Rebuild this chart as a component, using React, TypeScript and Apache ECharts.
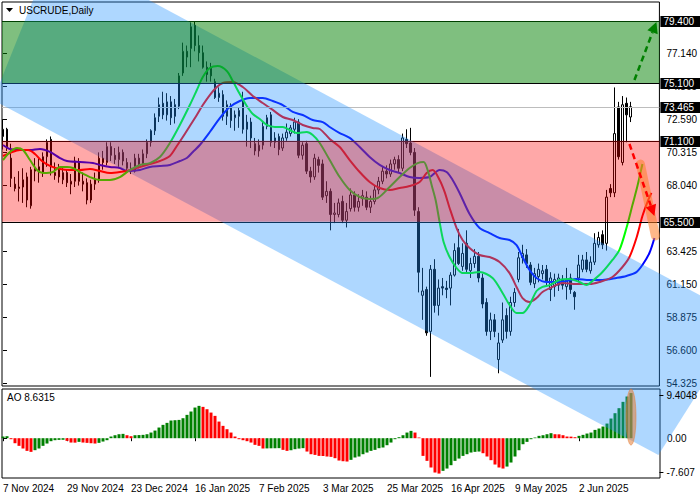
import React, { useEffect, useRef } from 'react';
import * as echarts from 'echarts';

const FONT = 'Liberation Sans';

// ---- tick labels ----
const dateTicks = ['7 Nov 2024', '29 Nov 2024', '23 Dec 2024', '16 Jan 2025', '7 Feb 2025', '3 Mar 2025', '25 Mar 2025', '16 Apr 2025', '9 May 2025', '2 Jun 2025'];
const dateTickIndex = [0, 16, 32, 48, 64, 80, 96, 112, 128, 144];
const priceTicks = [54.325, 56.6, 58.875, 61.15, 63.425, 68.04, 70.315, 72.59, 74.865, 77.14];

// ---- daily candles (USCRUDE) ----
const opens = [71.4,71.9,69.9,68.1,67.8,67.9,68.6,66.6,69.0,69.3,68.9,70.0,71.2,68.9,69.2,68.4,68.9,68.1,68.3,69.6,68.3,68.2,67.0,68.1,68.4,69.9,69.6,70.7,70.1,69.8,70.3,69.6,69.2,69.0,69.9,69.5,70.2,71.0,71.8,72.8,73.7,72.9,73.8,73.6,73.5,75.8,77.3,77.5,79.1,77.7,77.2,76.2,76.2,75.2,74.1,74.3,72.8,73.5,72.7,72.8,73.9,71.9,72.4,70.9,70.4,70.8,72.1,72.9,71.0,71.4,70.6,71.3,71.6,71.9,72.4,70.1,70.9,69.0,68.6,69.8,69.5,67.3,67.6,66.0,66.0,66.9,65.6,66.4,67.35,66.5,67.1,67.2,66.5,66.9,67.7,68.3,69.0,68.8,69.5,69.8,69.2,71.2,70.95,70.3,66.2,60.4,60.8,57.9,62.2,59.7,61.0,60.9,60.9,61.8,63.7,62.4,64.0,62.1,62.6,63.1,61.6,59.9,57.9,58.7,55.95,57.3,59.0,57.9,59.9,61.5,63.0,63.2,62.5,61.2,61.7,61.9,62.2,60.8,61.0,61.1,61.5,61.0,61.6,60.6,61.6,62.2,62.85,62.1,62.7,63.9,64.6,64.0,67.8,67.5,73.45,69.6,73.7,72.75];
const highs = [72.6,72.0,70.9,68.6,69.0,69.2,68.9,69.3,69.9,69.9,70.3,71.2,71.4,69.6,69.5,69.2,69.1,68.8,70.0,69.9,68.9,68.5,68.4,68.9,70.3,70.4,71.0,71.0,70.6,70.7,70.5,69.9,69.6,70.2,70.2,70.5,71.2,71.9,73.0,74.1,74.5,74.4,74.2,74.0,75.8,77.9,77.7,79.3,79.35,78.4,77.7,76.6,76.5,75.4,74.8,74.6,73.9,73.7,73.2,73.4,74.5,72.9,72.7,71.3,71.2,72.4,72.9,73.1,71.7,71.6,71.6,72.3,72.2,72.7,72.6,71.0,71.1,69.3,70.2,70.0,69.8,68.3,67.8,66.8,67.1,67.3,66.8,67.8,67.6,67.4,67.7,67.6,67.3,68.0,68.6,69.3,69.4,69.8,70.0,70.1,71.6,71.9,72.0,70.6,66.5,62.3,61.0,62.5,62.9,61.5,61.6,61.4,62.0,64.0,65.0,64.0,64.9,63.0,63.6,63.4,61.9,60.2,59.2,59.1,57.8,59.9,59.5,60.3,60.9,63.4,63.9,63.6,62.7,62.3,62.6,62.5,62.5,62.0,61.9,61.9,61.8,62.3,61.9,60.7,63.2,63.2,63.4,63.1,64.7,64.8,64.9,67.7,68.1,74.8,73.8,74.2,74.1,73.8];
const lows = [70.5,70.4,67.9,67.6,66.9,66.8,66.5,66.4,68.3,68.2,68.6,69.3,68.7,68.4,68.2,68.1,67.9,67.4,67.9,68.0,67.6,66.7,66.8,67.7,68.2,69.1,69.4,69.7,69.5,69.3,69.4,68.9,68.8,68.9,69.2,69.3,69.9,70.7,71.5,72.4,72.6,72.5,72.2,72.3,73.3,75.6,76.2,76.2,77.3,76.6,76.1,75.2,75.2,74.0,73.8,72.5,72.2,72.0,71.8,72.0,71.6,70.7,70.6,70.1,70.0,70.5,71.9,70.7,70.6,70.1,70.4,71.1,71.4,71.6,69.9,69.8,68.8,68.2,68.4,68.9,67.0,66.8,64.9,65.4,65.8,65.4,65.1,66.2,66.2,66.2,66.6,66.3,66.1,66.7,67.4,68.1,68.5,68.6,69.1,68.9,69.0,70.6,70.1,65.9,60.6,58.7,57.6,54.75,59.2,59.0,60.4,60.2,59.7,61.7,62.5,62.1,61.9,61.6,62.3,61.3,59.5,57.6,57.3,57.5,55.0,57.1,57.4,57.6,59.6,61.3,62.6,62.3,61.1,60.9,61.3,61.5,61.1,60.0,60.3,60.7,60.8,60.1,60.5,59.4,61.3,62.0,62.0,61.9,62.5,63.7,63.6,63.5,67.2,67.2,69.8,69.4,71.0,72.4];
const closes = [71.9,70.6,68.5,67.8,67.9,68.4,67.0,69.1,69.2,68.9,70.0,71.0,69.3,68.7,68.6,68.9,68.2,68.3,69.7,68.3,68.1,67.0,68.1,68.4,69.9,69.6,70.7,70.1,69.8,70.3,69.7,69.2,69.0,69.9,69.5,70.2,71.0,71.8,72.7,73.6,72.9,73.8,72.7,72.8,75.6,77.3,76.9,79.0,77.7,77.2,76.2,75.7,75.6,74.1,74.4,72.8,73.6,72.5,72.9,73.2,71.9,72.4,71.3,70.4,70.8,72.1,72.7,71.0,71.3,70.5,71.3,71.7,72.0,72.4,70.1,70.8,69.0,68.6,69.9,69.4,67.2,67.6,66.0,66.1,66.8,65.6,66.2,67.35,66.5,66.9,67.3,66.5,66.9,67.7,68.3,69.0,68.8,69.5,69.8,69.2,71.3,70.9,70.3,66.3,62.0,60.7,57.8,62.2,59.7,60.9,60.9,60.8,61.8,63.5,62.6,63.3,62.2,62.6,63.1,61.6,59.8,57.9,58.7,57.9,57.1,58.7,57.9,59.9,60.6,63.0,63.3,62.6,61.3,61.9,62.2,62.1,61.4,61.6,61.5,61.6,61.1,61.5,60.8,60.3,62.5,62.85,62.2,62.7,64.0,64.4,63.9,67.2,67.5,71.6,70.0,73.6,72.9,73.465];

// ---- Alligator lines: [bar index, price] ----
const lipsLine = [[0,69.77],[1.75,70.33],[3.5,70.6],[5,70.46],[6.75,69.77],[8.5,69.08],[10,68.87],[12.5,68.94],[14.25,69.29],[16,69.29],[17.5,69.22],[19.25,68.94],[21.75,68.59],[24.25,68.39],[26.75,68.39],[29.25,68.59],[31.75,69.08],[34.25,69.43],[36.75,69.56],[39.25,69.98],[41.75,70.95],[44.25,72.2],[46.75,73.58],[48.5,74.62],[50,75.52],[51.75,76.14],[53.75,76.28],[56,75.94],[57.5,75.24],[59.25,74.34],[61,73.51],[62.5,72.96],[64.25,72.61],[66,72.2],[68,72.06],[70,72.06],[71.75,71.85],[73.5,71.64],[76,71.71],[77.5,71.5],[79.25,70.95],[81.75,69.77],[84.25,68.59],[86.75,67.69],[89.25,67.21],[91.75,67.07],[93.75,67.14],[96.75,67.9],[99.25,68.59],[101.75,69.22],[103.75,69.56],[105.25,69.63],[106.25,69.08],[107.25,68.04],[108.25,67.0],[109.25,65.48],[110.25,64.09],[111.75,63.05],[113.5,62.29],[115,61.94],[116.75,61.94],[119.25,62.01],[122.5,61.6],[125,60.56],[126.75,59.73],[128.5,59.17],[130,59.17],[131.75,59.73],[133.5,60.7],[135,60.98],[136.75,61.11],[139.25,61.46],[141.75,61.53],[144.25,61.32],[146,61.11],[147.5,61.39],[150,62.01],[152.5,62.85],[154.25,63.54],[156,65.06],[157.5,66.65],[158.75,67.97],[160,69.49]];
const teethLine = [[0,70.05],[1.75,70.26],[4.25,70.46],[6.25,70.46],[8,70.19],[9.75,69.7],[11.75,69.36],[14.25,69.15],[16.75,69.08],[19.25,69.08],[21.75,69.15],[24.25,69.01],[26.75,68.87],[29.25,68.94],[31.75,69.08],[34.25,69.29],[36.75,69.49],[39.25,69.7],[41.75,70.05],[43.5,70.74],[45,71.36],[46.75,72.13],[48.5,72.89],[50,73.58],[51.75,74.27],[53.5,74.83],[55,75.11],[57.5,75.17],[60,74.83],[62.5,74.21],[65,73.72],[67.5,73.24],[70,72.75],[72.5,72.54],[75,72.2],[77.5,71.99],[79.25,71.92],[81.75,71.23],[84.25,70.67],[86.75,69.77],[89.25,68.94],[91.75,68.25],[94.25,67.83],[96.75,67.69],[99.25,67.83],[101.75,67.97],[104.25,68.25],[106,68.87],[107.5,69.08],[109.25,68.39],[110.5,67.56],[111.75,66.45],[113.5,65.06],[115,64.23],[116.75,63.68],[119.25,63.19],[121.75,63.05],[124.25,62.71],[126.75,61.94],[128.5,60.98],[130,60.21],[131.75,59.94],[133.5,60.21],[135,60.63],[137.5,60.98],[140,61.25],[143.5,61.18],[146.75,61.18],[149.25,61.32],[152.5,61.67],[155,62.36],[156.75,63.05],[158.5,64.37],[160,65.89],[161.25,66.86],[162.25,67.49]];
const jawLine = [[0,70.81],[1.75,70.53],[4.25,70.46],[6.75,70.46],[9.25,70.53],[11.75,70.33],[14.25,69.91],[16,69.7],[19.25,69.63],[22.5,69.56],[24.25,69.43],[26.75,69.29],[29.25,69.22],[31,69.01],[34.25,69.08],[36.75,69.29],[39.25,69.36],[41.75,69.43],[44.25,69.7],[46,69.91],[47.5,70.33],[49.25,70.81],[51.75,71.71],[54.25,72.68],[56.75,73.44],[59.25,73.86],[61.75,74.07],[65,74.07],[67.5,73.86],[70,73.58],[72.5,73.1],[75,72.89],[77.5,72.54],[80,72.4],[81.75,72.06],[84.25,71.64],[86.75,71.3],[89.25,70.67],[91.75,69.98],[94.25,69.43],[96.75,69.08],[99.25,68.87],[101.75,68.59],[104.25,68.53],[106.75,68.59],[109.25,69.08],[111,68.94],[112.5,68.39],[114.25,67.49],[116.75,66.03],[119.25,65.06],[121.75,64.71],[124.25,64.37],[126.75,64.23],[128.5,63.88],[130,63.05],[131.75,62.15],[133.5,61.6],[136,61.32],[138.5,61.32],[141,61.39],[143.5,61.53],[146.75,61.46],[150,61.46],[153.5,61.6],[156,61.74],[158.5,62.01],[160,62.5],[161.75,63.33],[163,64.37]];

// ---- Awesome Oscillator ----
const aoValues = [0.32,0.38,-0.19,-0.96,-1.46,-1.97,-2.42,-2.61,-2.29,-1.97,-1.46,-1.02,-0.57,-0.38,-0.32,-0.3,-0.51,-0.83,-0.85,-0.7,-0.83,-0.89,-0.96,-1.02,-0.89,-0.64,-0.38,0.32,0.57,0.76,0.83,0.57,0.38,0.57,0.6,0.64,0.76,1.08,1.46,2.04,2.55,2.93,3.38,3.44,3.5,3.82,4.46,5.1,5.86,6.18,5.99,5.54,4.9,4.27,3.18,2.36,1.72,1.08,0.32,-0.19,-0.38,-0.57,-0.83,-1.27,-1.46,-1.97,-1.95,-1.93,-1.92,-1.9,-2.23,-2.42,-2.3,-2.1,-1.98,-1.9,-2.55,-3.06,-3.19,-3.38,-3.4,-3.5,-3.57,-3.82,-4.27,-4.4,-4.46,-4.14,-3.69,-3.5,-3.06,-2.74,-2.42,-2.23,-1.91,-1.78,-1.34,-0.83,-0.19,0.19,0.57,1.08,1.4,1.08,0.13,-3.38,-4.33,-5.6,-6.56,-6.76,-6.24,-5.8,-5.16,-4.33,-3.89,-3.38,-3.06,-2.74,-2.61,-2.55,-2.87,-3.5,-4.2,-5.03,-5.6,-5.8,-5.42,-4.65,-3.5,-2.3,-1.15,-0.7,-0.19,0.13,0.45,0.57,0.76,0.96,0.76,0.74,0.57,0.32,0.3,0.19,0.45,0.64,0.89,1.08,1.59,1.85,2.23,2.8,3.76,4.78,5.74,6.95,7.97,8.6315];
const aoCurrent = 8.6315;
const aoScaleLabels = [9.4048, 0, -7.607];

// ---- drawn levels and annotations (bar index, price) ----
const levelPrices = [79.4, 75.1, 71.1, 65.5];
const currentPrice = 73.465;
const greenZone = [75.1, 79.4];
const redZone = [65.5, 71.1];
const channelCorners = [[12.65, 84.39], [185.5, 58.76], [164.0, 49.34], [-2.5, 73.93]];
const upArrow = [[158, 75.31], [163.5, 79.33]];
const downArrow = [[156.75, 70.88], [163, 65.89]];
const orangeBand = [[159.5, 69.49], [163.25, 64.51]];
const aoEllipse = { index: 157, top: 9.4, bottom: -1.3 };

const X_MIN = -0.25;
const X_MAX = 164.25;
const P_MIN = 54.118;
const P_MAX = 80.716;
const AO_MIN = -7.607;
const AO_MAX = 9.4048;

export default function App() {
  const ref = useRef<HTMLDivElement>(null);
  useEffect(() => {
    const chart = echarts.init(ref.current as HTMLDivElement, null, { renderer: 'svg' });
    const candles = closes.map((c, i) => [i, opens[i], c, lows[i], highs[i]]);
    const aoBars = aoValues.map((v, i) => ({
      value: [i, v],
      itemStyle: { color: i > 0 && v < aoValues[i - 1] ? '#ff0000' : '#008000' },
    }));
    const lineSeries = (data: number[][], color: string) => ({
      type: 'line', xAxisIndex: 0, yAxisIndex: 0, data, smooth: 0.3, showSymbol: false, symbol: 'none',
      lineStyle: { color, width: 2 }, z: 3, silent: true,
    });
    chart.setOption({
      animation: false,
      grid: [
        { left: 2, top: 2, width: 658, height: 384, show: true, borderColor: '#000', borderWidth: 1 },
        { left: 2, top: 389, width: 658, height: 89, show: true, borderColor: '#000', borderWidth: 1 },
      ],
      xAxis: [
        { type: 'value', gridIndex: 0, min: X_MIN, max: X_MAX, axisLine: { show: false }, axisTick: { show: false }, axisLabel: { show: false }, splitLine: { show: false } },
        {
          type: 'value', gridIndex: 1, min: X_MIN, max: X_MAX, axisLine: { show: false }, splitLine: { show: false },
          axisTick: { show: true, customValues: dateTickIndex, length: 3, lineStyle: { color: '#000' } },
          axisLabel: { customValues: dateTickIndex, formatter: (v: number) => dateTicks[Math.round(v / 16)] ?? '', align: 'left', margin: 5, fontSize: 10, fontFamily: FONT, color: '#000' },
        },
      ],
      yAxis: [
        {
          type: 'value', gridIndex: 0, position: 'right', min: P_MIN, max: P_MAX, scale: true, splitLine: { show: false }, axisLine: { show: false },
          axisTick: { show: true, customValues: priceTicks, length: 4, lineStyle: { color: '#000' } },
          axisLabel: { customValues: priceTicks, formatter: (v: number) => v.toFixed(3), margin: 7, fontSize: 10, fontFamily: FONT, color: '#000' },
        },
        {
          type: 'value', gridIndex: 1, position: 'right', min: AO_MIN, max: AO_MAX, splitLine: { show: false }, axisLine: { show: false },
          axisTick: { show: true, customValues: [0], length: 4, lineStyle: { color: '#000' } },
          axisLabel: { customValues: [0], formatter: () => '0.00', margin: 7, fontSize: 10, fontFamily: FONT, color: '#000' },
        },
      ],
      series: [
        {
          type: 'candlestick', xAxisIndex: 0, yAxisIndex: 0, data: candles, encode: { x: 0, y: [1, 2, 3, 4] }, barWidth: 2, z: 2, silent: true,
          itemStyle: { color: '#ffffff', color0: '#000000', borderColor: '#000000', borderColor0: '#000000', borderWidth: 1 },
        },
        lineSeries(jawLine, '#0000ff'),
        lineSeries(teethLine, '#ff0000'),
        lineSeries(lipsLine, '#00ff00'),
        { type: 'bar', xAxisIndex: 1, yAxisIndex: 1, data: aoBars, barWidth: 3, z: 2, silent: true },
      ],
    });

    const P = (i: number, p: number) => chart.convertToPixel({ xAxisIndex: 0, yAxisIndex: 0 }, [i, p]) as number[];
    const A = (i: number, v: number) => chart.convertToPixel({ xAxisIndex: 1, yAxisIndex: 1 }, [i, v]) as number[];
    const xL = P(X_MIN, P_MAX)[0];
    const xR = P(X_MAX, P_MAX)[0];
    const yOf = (p: number) => P(0, p)[1];
    const crisp = (v: number) => Math.round(v) + 0.5;
    const els: any[] = [];

    els.push({ type: 'line', z: 4, silent: true, shape: { x1: xL, y1: crisp(yOf(currentPrice)), x2: xR, y2: crisp(yOf(currentPrice)) }, style: { stroke: '#bdbdbd', lineWidth: 1 } });
    levelPrices.forEach((p) => {
      els.push({ type: 'line', z: 4, silent: true, shape: { x1: xL, y1: crisp(yOf(p)), x2: xR, y2: crisp(yOf(p)) }, style: { stroke: '#000', lineWidth: 1 } });
    });
    els.push({ type: 'polygon', z: 5, silent: true, shape: { points: channelCorners.map(([i, p]) => P(i, p)) }, style: { fill: 'rgba(30,144,255,0.36)' } });
    const zoneRect = (zone: number[], fill: string) => ({
      type: 'rect', z: 6, silent: true,
      shape: { x: xL, y: yOf(zone[1]), width: xR - xL, height: yOf(zone[0]) - yOf(zone[1]) },
      style: { fill },
    });
    els.push(zoneRect(greenZone, 'rgba(0,128,0,0.5)'));
    els.push(zoneRect(redZone, 'rgba(255,0,0,0.34)'));

    const b0 = P(orangeBand[0][0], orangeBand[0][1]);
    const b1 = P(orangeBand[1][0], orangeBand[1][1]);
    els.push({ type: 'line', z: 7, silent: true, shape: { x1: b0[0], y1: b0[1], x2: b1[0], y2: b1[1] }, style: { stroke: 'rgba(255,125,40,0.55)', lineWidth: 9, lineCap: 'round' } });

    const arrow = (pts: number[][], color: string) => {
      const s = P(pts[0][0], pts[0][1]);
      const t = P(pts[1][0], pts[1][1]);
      const dx = t[0] - s[0], dy = t[1] - s[1];
      const len = Math.hypot(dx, dy);
      const ux = dx / len, uy = dy / len;
      const L = 11, W = 5.5;
      const bx = t[0] - ux * L, by = t[1] - uy * L;
      els.push({ type: 'line', z: 8, silent: true, shape: { x1: s[0], y1: s[1], x2: bx, y2: by }, style: { stroke: color, lineWidth: 2.5, lineDash: [6, 4] } });
      els.push({ type: 'polygon', z: 8, silent: true, shape: { points: [t, [bx - uy * W, by + ux * W], [bx + uy * W, by - ux * W]] }, style: { fill: color } });
    };
    arrow(upArrow, '#008000');
    arrow(downArrow, '#ff0000');

    const eTop = A(aoEllipse.index, aoEllipse.top);
    const eBot = A(aoEllipse.index, aoEllipse.bottom);
    els.push({ type: 'ellipse', z: 8, silent: true, shape: { cx: eTop[0], cy: (eTop[1] + eBot[1]) / 2, rx: 5, ry: (eBot[1] - eTop[1]) / 2 }, style: { fill: 'rgba(228,125,55,0.55)', stroke: 'rgba(228,125,55,0.5)', lineWidth: 1 } });

    [...levelPrices, currentPrice].forEach((p) => {
      const y = yOf(p);
      els.push({ type: 'rect', z: 9, silent: true, shape: { x: xR + 1, y: Math.round(y) - 5, width: 40, height: 11 }, style: { fill: '#000' } });
      els.push({ type: 'text', z: 10, silent: true, x: xR + 4, y: Math.round(y) + 0.5, style: { text: p.toFixed(3), fill: '#fff', fontSize: 10, fontFamily: FONT, align: 'left', verticalAlign: 'middle' } });
    });

    // AO scale extremes
    const aoTopY = A(0, aoScaleLabels[0])[1];
    const aoBotY = A(0, aoScaleLabels[2])[1];
    els.push({ type: 'text', z: 10, silent: true, x: xR + 7, y: aoTopY + 1, style: { text: String(aoScaleLabels[0]), fill: '#000', fontSize: 10, fontFamily: FONT, align: 'left', verticalAlign: 'top' } });
    els.push({ type: 'text', z: 10, silent: true, x: xR + 7, y: aoBotY - 1, style: { text: String(aoScaleLabels[2]), fill: '#000', fontSize: 10, fontFamily: FONT, align: 'left', verticalAlign: 'bottom' } });
    els.push({ type: 'line', z: 10, silent: true, shape: { x1: xR, y1: crisp(aoTopY + 6), x2: xR + 4, y2: crisp(aoTopY + 6) }, style: { stroke: '#000', lineWidth: 1 } });
    els.push({ type: 'line', z: 10, silent: true, shape: { x1: xR, y1: crisp(aoBotY - 6), x2: xR + 4, y2: crisp(aoBotY - 6) }, style: { stroke: '#000', lineWidth: 1 } });

    // titles
    els.push({ type: 'polygon', z: 10, silent: true, shape: { points: [[6, 8], [13, 8], [9.5, 12]] }, style: { fill: '#000' } });
    els.push({ type: 'text', z: 10, silent: true, x: 19, y: 10.5, style: { text: 'USCRUDE,Daily', fill: '#000', fontSize: 10, fontFamily: FONT, align: 'left', verticalAlign: 'middle' } });
    els.push({ type: 'text', z: 10, silent: true, x: 7, y: 397, style: { text: 'AO ' + aoCurrent, fill: '#000', fontSize: 10, fontFamily: FONT, align: 'left', verticalAlign: 'middle' } });

    chart.setOption({ graphic: els });
    return () => chart.dispose();
  }, []);
  return <div ref={ref} style={{ position: 'fixed', left: 0, top: 0, width: 700, height: 500, background: '#fff' }} />;
}
